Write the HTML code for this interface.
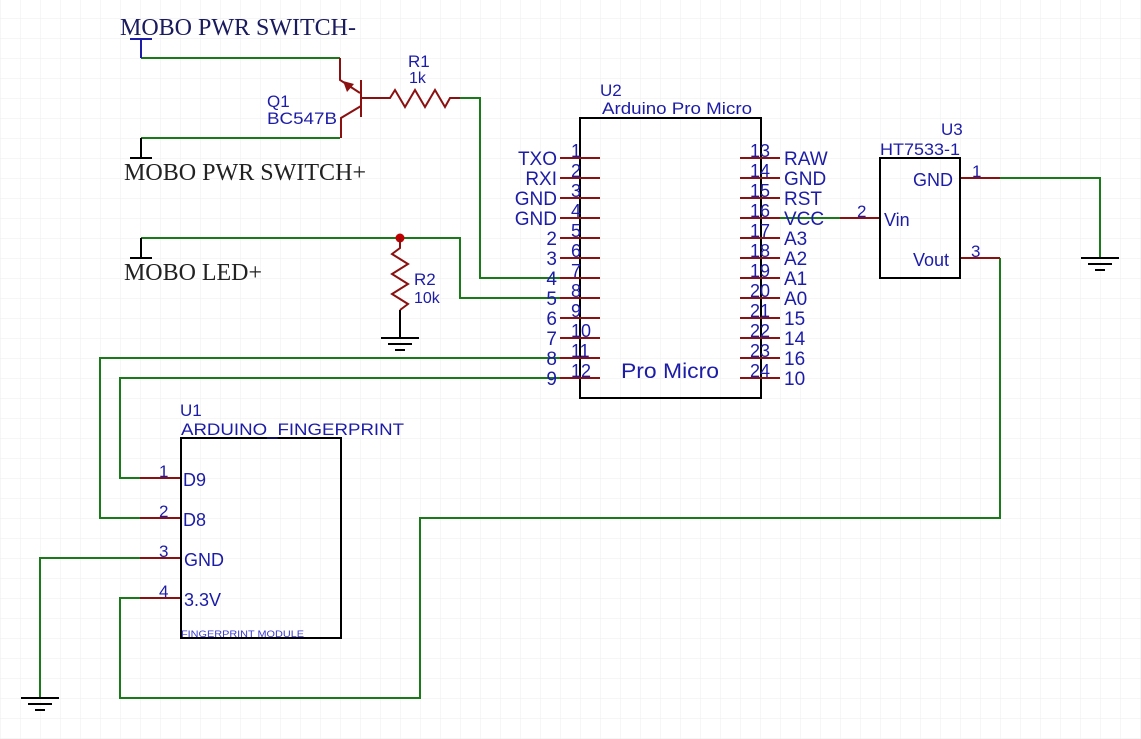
<!DOCTYPE html>
<html><head><meta charset="utf-8"><style>
html,body{margin:0;padding:0;background:#fff;}
svg{display:block;}
.s{font-family:"Liberation Sans",sans-serif;fill:#1c1ca8;}
.f{font-family:"Liberation Serif",serif;}
</style></head><body>
<svg width="1141" height="739" viewBox="0 0 1141 739" xmlns="http://www.w3.org/2000/svg">
<defs>
<pattern id="g" x="0" y="18" width="20" height="20" patternUnits="userSpaceOnUse">
<path d="M0 0H20M0 0V20" stroke="#ededed" stroke-width="1" fill="none"/>
</pattern>
</defs>
<rect width="1141" height="739" fill="#fff"/>
<rect width="1141" height="739" fill="url(#g)"/>

<g fill="none" stroke="#1a7a1a" stroke-width="2">
<polyline points="141,58 340,58"/>
<polyline points="141,138 340,138"/>
<polyline points="460,98 480,98 480,278 560,278"/>
<polyline points="141,238 460,238 460,298 560,298"/>
<polyline points="140,478 120,478 120,378 560,378"/>
<polyline points="140,518 100,518 100,358 560,358"/>
<polyline points="140,558 40,558 40,698"/>
<polyline points="140,598 120,598 120,698 420,698 420,518 1000,518 1000,258"/>
<polyline points="780,218 840,218"/>
<polyline points="1000,178 1100,178 1100,258"/>
</g>
<circle cx="400" cy="238" r="4.5" fill="#c00000"/>

<g fill="none" stroke="#8b1010" stroke-width="2">
<polyline points="340,58 340,80 360,93"/>
<polyline points="361,80 361,117"/>
<polyline points="361,98 390,98 395,90 405,107 415,90 425,107 435,90 445,107 450,98 460,98"/>
<polyline points="361,106 341,118 341,138"/>
<polyline points="400,238 400,248 392,254 408,264 392,274 408,284 392,294 408,304 400,310"/>
</g>
<polygon points="343,81 354,84 347,92" fill="#8b1010"/>

<g fill="none" stroke="#1c1ca8" stroke-width="2"><polyline points="130,39 152,39"/><polyline points="141,39 141,58"/></g>
<g fill="none" stroke="#000" stroke-width="2">
<polyline points="130,158 152,158"/><polyline points="141,138 141,158"/>
<polyline points="130,258 152,258"/><polyline points="141,238 141,258"/>
<polyline points="400,310 400,338"/>
<polyline points="381,338 419,338"/><polyline points="388,344 412,344"/><polyline points="395,350 405,350"/>
<polyline points="1081,258 1119,258"/><polyline points="1088,264 1112,264"/><polyline points="1095,270 1105,270"/>
<polyline points="21,698 59,698"/><polyline points="28,704 52,704"/><polyline points="35,710 45,710"/>
</g>
<text x="120" y="35" class="f" font-size="24" fill="#1a1a5e" textLength="236" lengthAdjust="spacingAndGlyphs">MOBO PWR SWITCH-</text>
<text x="124" y="180" class="f" font-size="24" fill="#222" textLength="242" lengthAdjust="spacingAndGlyphs">MOBO PWR SWITCH+</text>
<text x="124" y="280" class="f" font-size="24" fill="#222" textLength="138" lengthAdjust="spacingAndGlyphs">MOBO LED+</text>
<text x="267" y="107" class="s" font-size="17">Q1</text>
<text x="267" y="124" class="s" font-size="17" textLength="70" lengthAdjust="spacingAndGlyphs">BC547B</text>
<text x="408" y="67" class="s" font-size="17">R1</text>
<text x="409" y="83" class="s" font-size="16">1k</text>
<text x="414" y="285" class="s" font-size="17">R2</text>
<text x="414" y="303" class="s" font-size="16">10k</text>

<rect x="580" y="118" width="181" height="280" fill="none" stroke="#000" stroke-width="2"/>
<text x="600" y="96" class="s" font-size="17">U2</text>
<text x="602" y="114" class="s" font-size="17" textLength="150" lengthAdjust="spacingAndGlyphs">Arduino Pro Micro</text>
<text x="621" y="378" class="s" font-size="21" textLength="98" lengthAdjust="spacingAndGlyphs">Pro Micro</text>
<g stroke="#8b1010" stroke-width="2">
<path d="M560 158H600M560 178H600M560 198H600M560 218H600M560 238H600M560 258H600M560 278H600M560 298H600M560 318H600M560 338H600M560 358H600M560 378H600"/>
<path d="M740 158H780M740 178H780M740 198H780M740 218H780M740 238H780M740 258H780M740 278H780M740 298H780M740 318H780M740 338H780M740 358H780M740 378H780"/>
<path d="M140 478H180M140 518H180M140 558H180M140 598H180"/>
<path d="M840 218H880M960 178H1000M960 258H1000"/>
</g>
<g class="s" font-size="19" text-anchor="end">
<text x="557" y="165">TXO</text><text x="557" y="185">RXI</text><text x="557" y="205">GND</text><text x="557" y="225">GND</text>
<text x="557" y="245">2</text><text x="557" y="265">3</text><text x="557" y="285">4</text><text x="557" y="305">5</text>
<text x="557" y="325">6</text><text x="557" y="345">7</text><text x="557" y="365">8</text><text x="557" y="385">9</text>
</g>
<g class="s" font-size="18">
<text x="571" y="157">1</text><text x="571" y="177">2</text><text x="571" y="197">3</text><text x="571" y="217">4</text>
<text x="571" y="237">5</text><text x="571" y="257">6</text><text x="571" y="277">7</text><text x="571" y="297">8</text>
<text x="571" y="317">9</text><text x="571" y="337">10</text><text x="571" y="357">11</text><text x="571" y="377">12</text>
</g>
<g class="s" font-size="18" text-anchor="end">
<text x="770" y="157">13</text><text x="770" y="177">14</text><text x="770" y="197">15</text><text x="770" y="217">16</text>
<text x="770" y="237">17</text><text x="770" y="257">18</text><text x="770" y="277">19</text><text x="770" y="297">20</text>
<text x="770" y="317">21</text><text x="770" y="337">22</text><text x="770" y="357">23</text><text x="770" y="377">24</text>
</g>
<g class="s" font-size="19">
<text x="784" y="165">RAW</text><text x="784" y="185">GND</text><text x="784" y="205">RST</text><text x="784" y="225">VCC</text>
<text x="784" y="245">A3</text><text x="784" y="265">A2</text><text x="784" y="285">A1</text><text x="784" y="305">A0</text>
<text x="784" y="325">15</text><text x="784" y="345">14</text><text x="784" y="365">16</text><text x="784" y="385">10</text>
</g>

<rect x="880" y="158" width="80" height="120" fill="none" stroke="#000" stroke-width="2"/>
<text x="941" y="135" class="s" font-size="17">U3</text>
<text x="880" y="155" class="s" font-size="17" textLength="80" lengthAdjust="spacingAndGlyphs">HT7533-1</text>
<text x="913" y="186" class="s" font-size="18">GND</text>
<text x="884" y="226" class="s" font-size="18">Vin</text>
<text x="913" y="266" class="s" font-size="18">Vout</text>
<text x="972" y="177" class="s" font-size="17">1</text>
<text x="857" y="217" class="s" font-size="17">2</text>
<text x="971" y="257" class="s" font-size="17">3</text>

<rect x="181" y="438" width="160" height="200" fill="none" stroke="#000" stroke-width="2"/>
<text x="180" y="416" class="s" font-size="17">U1</text>
<text x="181" y="435" class="s" font-size="17" textLength="223" lengthAdjust="spacingAndGlyphs">ARDUINO_FINGERPRINT</text>
<text x="183" y="486" class="s" font-size="18">D9</text>
<text x="183" y="526" class="s" font-size="18">D8</text>
<text x="184" y="566" class="s" font-size="18">GND</text>
<text x="184" y="606" class="s" font-size="18">3.3V</text>
<text x="159" y="477" class="s" font-size="17">1</text>
<text x="159" y="517" class="s" font-size="17">2</text>
<text x="159" y="557" class="s" font-size="17">3</text>
<text x="159" y="597" class="s" font-size="17">4</text>
<text x="181" y="637" class="s" font-size="9" style="fill:#3a3ad0" textLength="123" lengthAdjust="spacingAndGlyphs">FINGERPRINT MODULE</text>
</svg>
</body></html>
